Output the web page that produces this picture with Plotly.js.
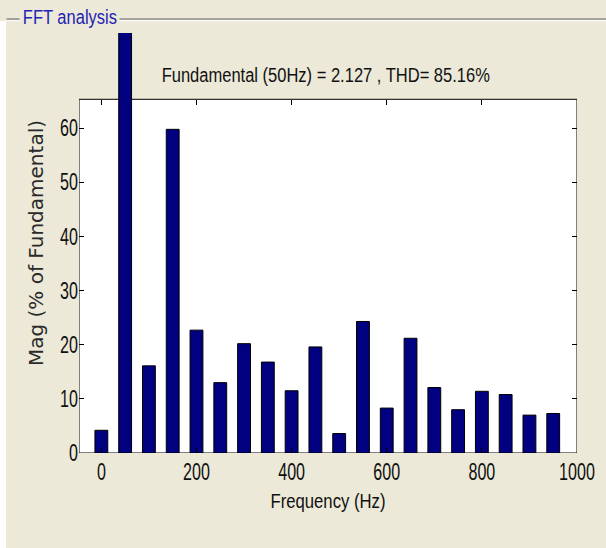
<!DOCTYPE html>
<html>
<head>
<meta charset="utf-8">
<script src="https://cdn.plot.ly/plotly-3.0.1.min.js"></script>
<style>html,body{margin:0;padding:0;background:#ECE9D8;}#chart{width:606px;height:548px;}</style>
</head>
<body>
<div id="chart"></div>
<script>
// ---- Data ----
const frequencies = [0, 50, 100, 150, 200, 250, 300, 350, 400, 450, 500, 550, 600, 650, 700, 750, 800, 850, 900, 950];
const magnitudes = [4.2, 100, 16.1, 59.8, 22.7, 13.0, 20.2, 16.8, 11.5, 19.6, 3.6, 24.3, 8.3, 21.2, 12.1, 8.0, 11.4, 10.8, 7.0, 7.3];
const xTicks = [0, 200, 400, 600, 800, 1000];
const yTicks = [0, 10, 20, 30, 40, 50, 60];
const xLimits = [-47, 1000];
const yLimits = [0, 65.35];
const chartTitle = 'Fundamental (50Hz) = 2.127 , THD= 85.16%';
const panelTitle = 'FFT analysis';
const xTitle = 'Frequency (Hz)';
const yTitle = 'Mag (% of Fundamental)';

// ---- Layout geometry (pixels) ----
const W = 606, H = 548;
const M = {l: 79, r: 29, t: 33, b: 95};
const PW = W - M.l - M.r, PH = H - M.t - M.b;
const axesTopPx = 99.3;                       // top edge of the white axes box
const px = x => (x - M.l) / PW;
const py = y => (H - M.b - y) / PH;
// plotting region extends above the axes box (bars overflow like in MATLAB)
const yViewMax = yLimits[1] * PH / (H - M.b - axesTopPx);

const FONT = "'Liberation Sans', Arial, Helvetica, sans-serif";
const BG = '#ECE9D8';
const TXT = '#111111';

const barTrace = {
  type: 'bar',
  x: frequencies,
  y: magnitudes,
  width: 27,
  marker: {color: '#000080', line: {color: '#000000', width: 1}},
  hoverinfo: 'skip'
};
// empty trace so that the top tick axis (x2) gets drawn
const topAxisTrace = {type: 'scatter', x: [], y: [], xaxis: 'x2', yaxis: 'y', hoverinfo: 'skip', showlegend: false};

const tickCommon = {
  ticks: 'inside', ticklen: 5, tickcolor: '#000', tickwidth: 1,
  showgrid: false, zeroline: false, showline: false
};

const layout = {
  width: W, height: H,
  margin: M,
  paper_bgcolor: BG,
  plot_bgcolor: BG,
  showlegend: false,
  font: {family: FONT, color: TXT, size: 21},
  xaxis: Object.assign({}, tickCommon, {
    range: xLimits,
    tickvals: xTicks,
    ticktext: xTicks.map(String),
    ticklabelstandoff: 3,
    tickfont: {family: FONT, size: 23, color: TXT},
    title: {text: xTitle, font: {family: FONT, size: 20, color: TXT}, standoff: 10}
  }),
  xaxis2: Object.assign({}, tickCommon, {
    range: xLimits,
    tickvals: xTicks,
    overlaying: 'x',
    anchor: 'free',
    position: py(axesTopPx),
    side: 'top',
    showticklabels: false
  }),
  yaxis: Object.assign({}, tickCommon, {
    range: [yLimits[0], yViewMax],
    tickvals: yTicks,
    ticktext: yTicks.map(String),
    mirror: 'ticks',
    tickfont: {family: FONT, size: 23, color: TXT},
    title: {text: yTitle, font: {family: "'DejaVu Sans', sans-serif", size: 20, color: '#2a2a2a'}, standoff: 3}
  }),
  shapes: [
    // white axes box with black frame
    {type: 'rect', xref: 'x', yref: 'y', layer: 'below', x0: xLimits[0], x1: xLimits[1], y0: yLimits[0], y1: yLimits[1],
     fillcolor: '#ffffff', line: {color: '#000000', width: 1}},
    // left white strip outside the panel
    {type: 'rect', xref: 'paper', yref: 'paper', layer: 'above', x0: px(0), x1: px(6), y0: py(H), y1: py(21), fillcolor: '#ffffff', line: {width: 0}},
    // etched panel frame line (gap for the title)
    {type: 'line', xref: 'paper', yref: 'paper', layer: 'above', x0: px(6.5), x1: px(19.5), y0: py(19), y1: py(19), line: {color: '#8e8e8a', width: 1.6}},
    {type: 'line', xref: 'paper', yref: 'paper', layer: 'above', x0: px(119.5), x1: px(W), y0: py(19), y1: py(19), line: {color: '#8e8e8a', width: 1.6}},
    {type: 'line', xref: 'paper', yref: 'paper', layer: 'above', x0: px(6.5), x1: px(19.5), y0: py(20.8), y1: py(20.8), line: {color: '#ffffff', width: 1}},
    {type: 'line', xref: 'paper', yref: 'paper', layer: 'above', x0: px(119.5), x1: px(W), y0: py(20.8), y1: py(20.8), line: {color: '#ffffff', width: 1}}
  ],
  annotations: [
    {xref: 'paper', yref: 'paper', x: px(70), y: py(17), xanchor: 'center', yanchor: 'middle', text: panelTitle, showarrow: false,
     font: {family: FONT, size: 21, color: '#2424b4'}},
    {xref: 'paper', yref: 'paper', x: px(325.5), y: py(74), xanchor: 'center', yanchor: 'middle', text: chartTitle, showarrow: false,
     font: {family: FONT, size: 21, color: TXT}}
  ]
};

// horizontal squeeze of texts, mimicking the narrow rendering of the original figure
function squeeze(el, sx, sy, anchor) {
  const b = el.getBBox();
  const cx = anchor === 'right' ? b.x + b.width : b.x + b.width / 2;
  const cy = b.y + b.height / 2;
  const old = el.getAttribute('transform') || '';
  el.setAttribute('transform', old + ' translate(' + cx + ',' + cy + ') scale(' + sx + ',' + sy + ') translate(' + (-cx) + ',' + (-cy) + ')');
}

Plotly.newPlot('chart', [barTrace, topAxisTrace], layout, {displayModeBar: false, staticPlot: true}).then(function (gd) {
  gd.querySelectorAll('.xtick text').forEach(t => squeeze(t, 0.70, 1, 'center'));
  gd.querySelectorAll('.ytick text').forEach(t => squeeze(t, 0.70, 1, 'right'));
  const annSqueeze = [0.787, 0.787];
  gd.querySelectorAll('.annotation').forEach((a, i) => {
    const t = a.querySelector('text');
    if (t) squeeze(t, annSqueeze[i] || 0.8, 1, 'center');
  });
  gd.querySelectorAll('.g-xtitle text').forEach(t => squeeze(t, 0.835, 1, 'center'));
});
</script>
</body>
</html>
